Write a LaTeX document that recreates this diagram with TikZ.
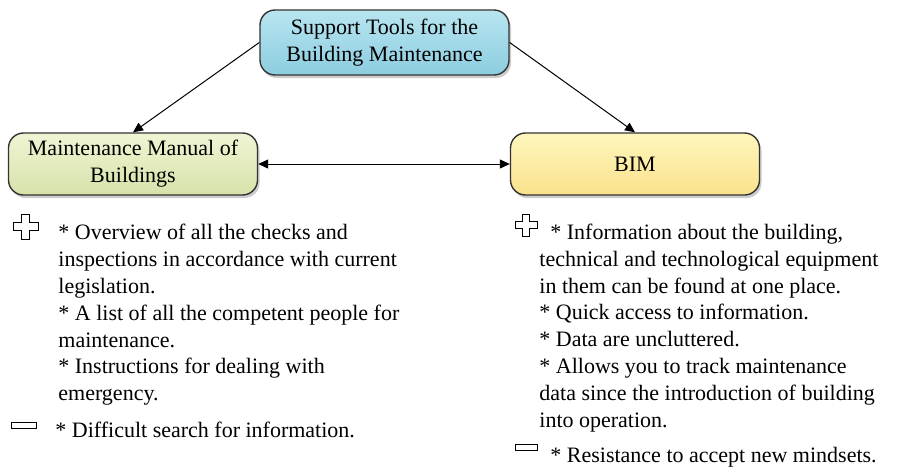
\documentclass[tikz,border=0pt]{standalone}
\usepackage{fontspec}
\setmainfont{Liberation Serif}
\usetikzlibrary{positioning,shadows,arrows.meta}
\definecolor{toolstop}{RGB}{184,229,240}
\definecolor{toolsbot}{RGB}{140,205,224}
\definecolor{manualtop}{RGB}{240,245,212}
\definecolor{manualbot}{RGB}{214,226,170}
\definecolor{bimtop}{RGB}{255,246,190}
\definecolor{bimbot}{RGB}{250,226,140}
\tikzset{
	box/.style={draw=black!80, line width=0.7pt, rounded corners=7.5pt, minimum width=124.5pt, minimum height=31pt, align=center, inner sep=2pt, drop shadow={opacity=0.4, shadow xshift=1pt, shadow yshift=-1.5pt}},
	toolsbox/.style={box, top color=toolstop, bottom color=toolsbot, minimum height=32.5pt},
	manualbox/.style={box, top color=manualtop, bottom color=manualbot},
	bimbox/.style={box, top color=bimtop, bottom color=bimbot},
	note/.style={anchor=north west, align=left, inner sep=0pt},
	plusicon/.pic={\draw[line width=0.5pt, fill=white] (-4,-12.5) -- (4,-12.5) -- (4,-4) -- (12.5,-4) -- (12.5,4) -- (4,4) -- (4,12.5) -- (-4,12.5) -- (-4,4) -- (-12.5,4) -- (-12.5,-4) -- (-4,-4) -- cycle;},
	minusicon/.pic={\draw[line width=0.5pt, fill=white] (-12.5,-3) rectangle (12.5,3);}
}

\begin{document}
\begin{tikzpicture}[x=0.5pt, y=-0.5pt, on grid, >={Triangle[length=5pt,width=4.5pt]}, font=\fontsize{11pt}{13.4pt}\selectfont]
\useasboundingbox (0,0) rectangle (898,468);
\node[toolsbox]						(tools)		at (384.5,42.5)									{Support Tools for the\\Building Maintenance};
\node[manualbox]					(manual)	[below left=60.75pt and 125.75pt of tools]		{Maintenance Manual of\\Buildings};
\node[bimbox]						(bim)		[below right=60.75pt and 125.25pt of tools]	{BIM};
\path[->, line width=0.5pt]
(tools.west)	edge					(manual.north)
(tools.east)	edge					(bim.north)
(manual.east)	edge[<->]				(bim.west)
;
\pic								(manualplus)	at (25.5,226.5)		{plusicon};
\pic								(manualminus)	at (23.5,425)		{minusicon};
\pic[scale=0.88]					(bimplus)		at (526,225)		{plusicon};
\pic[scale=0.88]					(bimminus)		at (526,447.5)		{minusicon};
\node[note]							(manualpro)	at (58,224)			{* Overview of all the checks and\\inspections in accordance with current\\legislation.\\* A list of all the competent people for\\maintenance.\\* Instructions for dealing with\\emergency.};
\node[note]							(manualcon)	at (55,422)			{* Difficult search for information.};
\node[note]							(bimpro)		at (539,223.5)		{\hspace*{5.5pt}* Information about the building,\\technical and technological equipment\\in them can be found at one place.\\* Quick access to information.\\* Data are uncluttered.\\* Allows you to track maintenance\\data since the introduction of building\\into operation.};
\node[note]							(bimcon)		at (550,446.5)		{* Resistance to accept new mindsets.};
\end{tikzpicture}
\end{document}
